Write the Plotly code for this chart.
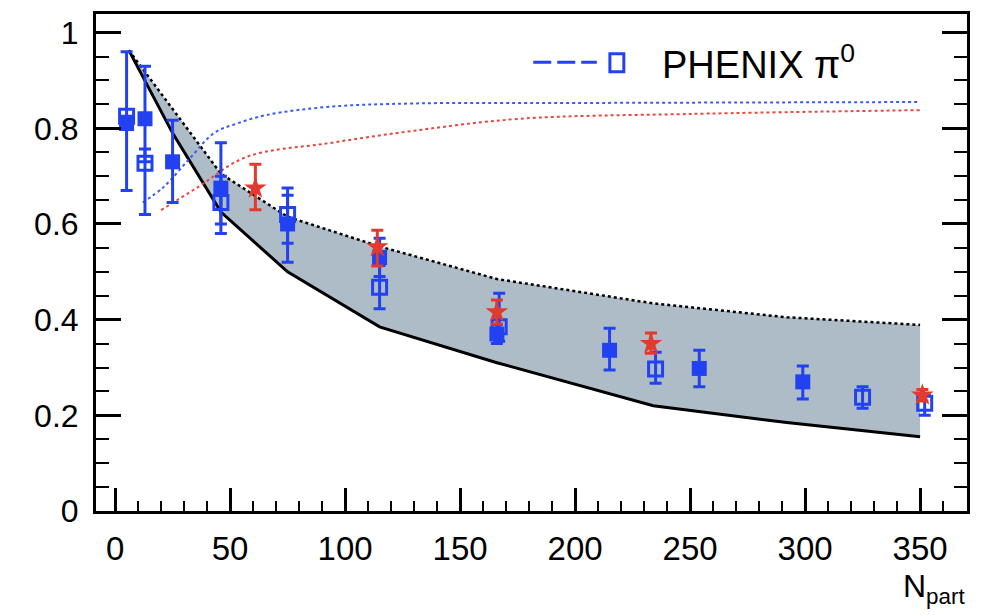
import plotly.graph_objects as go

# ---- model band ----
band_x = [6, 25, 46, 75, 115, 166, 234, 292, 350]
band_lower = [0.963, 0.79, 0.625, 0.50, 0.385, 0.31, 0.22, 0.185, 0.155]
band_upper = [0.963, 0.84, 0.705, 0.615, 0.553, 0.485, 0.434, 0.405, 0.389]

# ---- dotted curves ----
blue_curve_x = [12, 21, 33, 43, 53, 66, 93, 130, 200, 350]
blue_curve_y = [0.645, 0.677, 0.74, 0.79, 0.81, 0.828, 0.845, 0.852, 0.853, 0.855]
red_curve_x = [20, 36, 57, 93, 130, 176, 250, 350]
red_curve_y = [0.629, 0.677, 0.74, 0.769, 0.795, 0.82, 0.83, 0.838]

# ---- filled blue squares ----
fb_x = [5, 13, 25, 46, 75, 115, 166, 215, 254, 299]
fb_y = [0.81, 0.82, 0.73, 0.675, 0.60, 0.53, 0.37, 0.336, 0.298, 0.27]
fb_up = [0.15, 0.11, 0.087, 0.095, 0.06, 0.04, 0.02, 0.046, 0.038, 0.033]
fb_dn = [0.14, 0.09, 0.085, 0.075, 0.08, 0.04, 0.02, 0.041, 0.038, 0.036]

# ---- open blue squares (PHENIX pi0) ----
ob_x = [5, 13, 46, 75, 115, 167, 235, 325, 352]
ob_y = [0.825, 0.727, 0.645, 0.62, 0.468, 0.385, 0.297, 0.238, 0.225]
ob_up = [0.0, 0.03, 0.055, 0.055, 0.045, 0.07, 0.035, 0.022, 0.02]
ob_dn = [0.0, 0.107, 0.065, 0.06, 0.045, 0.03, 0.03, 0.023, 0.025]

# ---- red stars ----
rd_x = [61, 114, 166, 233, 351]
rd_y = [0.675, 0.552, 0.416, 0.35, 0.242]
rd_up = [0.05, 0.035, 0.025, 0.022, 0.012]
rd_dn = [0.045, 0.04, 0.025, 0.02, 0.012]

x_ticks = [0, 50, 100, 150, 200, 250, 300, 350]
y_ticks = [0, 0.2, 0.4, 0.6, 0.8, 1.0]
y_ticktext = ["0", "0.2", "0.4", "0.6", "0.8", "1"]

BLUE = "#2242f2"
RED = "#e23a2e"
BAND = "#adbcc6"

fig = go.Figure()

fig.add_trace(go.Scatter(
    x=band_x + band_x[::-1], y=band_lower + band_upper[::-1],
    fill="toself", fillcolor=BAND, line=dict(width=0), mode="lines",
    showlegend=False, hoverinfo="skip"))
fig.add_trace(go.Scatter(x=band_x, y=band_lower, mode="lines",
                         line=dict(color="black", width=3), showlegend=False))
fig.add_trace(go.Scatter(x=band_x, y=band_upper, mode="lines",
                         line=dict(color="black", width=2.5, dash="dot"), showlegend=False))

fig.add_trace(go.Scatter(x=blue_curve_x, y=blue_curve_y, mode="lines",
                         line=dict(color="#3a5cf5", width=2, dash="dot", shape="spline"),
                         showlegend=False))
fig.add_trace(go.Scatter(x=red_curve_x, y=red_curve_y, mode="lines",
                         line=dict(color="#e8473c", width=2, dash="dot", shape="spline"),
                         showlegend=False))

fig.add_trace(go.Scatter(
    x=fb_x, y=fb_y, mode="markers",
    marker=dict(symbol="square", size=15, color=BLUE, line=dict(width=0)),
    error_y=dict(type="data", symmetric=False, array=fb_up, arrayminus=fb_dn,
                 color=BLUE, thickness=3, width=6),
    showlegend=False))
fig.add_trace(go.Scatter(
    x=ob_x, y=ob_y, mode="markers",
    marker=dict(symbol="square-open", size=14, color=BLUE, line=dict(width=3, color=BLUE)),
    error_y=dict(type="data", symmetric=False, array=ob_up, arrayminus=ob_dn,
                 color=BLUE, thickness=3, width=6),
    showlegend=False))
fig.add_trace(go.Scatter(
    x=rd_x, y=rd_y, mode="markers",
    marker=dict(symbol="star", size=17, color=RED, line=dict(width=0)),
    error_y=dict(type="data", symmetric=False, array=rd_up, arrayminus=rd_dn,
                 color=RED, thickness=3, width=6),
    showlegend=False))

# legend (drawn manually, ROOT style)
fig.add_shape(type="line", xref="paper", yref="paper", x0=0.502, x1=0.575, y0=0.903, y1=0.903,
              line=dict(color=BLUE, width=3, dash="18px,6px"))
fig.add_shape(type="rect", xref="paper", yref="paper", x0=0.590, x1=0.606, y0=0.884, y1=0.920,
              line=dict(color=BLUE, width=3))
fig.add_annotation(xref="paper", yref="paper", x=0.648, y=0.903, xanchor="left", yanchor="middle",
                   text="PHENIX π<sup>0</sup>", showarrow=False,
                   font=dict(size=38, color="black", family="Liberation Sans"))

fig.add_annotation(xref="paper", yref="paper", x=1.0, y=-0.155, xanchor="right", yanchor="middle",
                   text="N<sub>part</sub>", showarrow=False,
                   font=dict(size=32, color="black", family="Liberation Sans"))

fig.update_layout(
    width=984, height=615,
    margin=dict(l=96, r=17, t=14, b=104),
    paper_bgcolor="white", plot_bgcolor="white",
    font=dict(family="Liberation Sans", color="black"),
    showlegend=False,
)
fig.update_xaxes(
    range=[-8.3, 370.4], tickvals=x_ticks, ticks="inside", ticklen=23, tickwidth=3,
    tickcolor="black", showline=True, linecolor="black", linewidth=3, mirror=True,
    showgrid=False, zeroline=False, tickfont=dict(size=33), ticklabelstandoff=6,
    minor=dict(dtick=10, tick0=0, ticks="inside", ticklen=10, tickwidth=2, tickcolor="black",
               showgrid=False),
)
fig.update_yaxes(
    range=[0, 1.039], tickvals=y_ticks, ticktext=y_ticktext, ticks="inside", ticklen=25,
    tickwidth=3, tickcolor="black", showline=True, linecolor="black", linewidth=3,
    mirror="ticks", showgrid=False, zeroline=False, tickfont=dict(size=32),
    ticklabelstandoff=8,
    minor=dict(dtick=0.05, tick0=0, ticks="inside", ticklen=13, tickwidth=2, tickcolor="black",
               showgrid=False),
)

fig.write_html("out.html")
